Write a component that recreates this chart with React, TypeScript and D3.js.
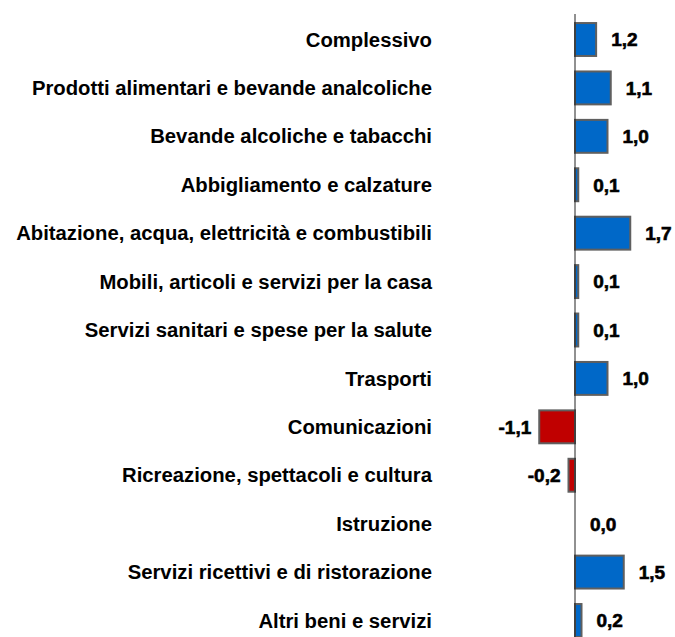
import { useEffect, useRef } from "react";
import * as d3 from "d3";

const categories = [
  "Complessivo",
  "Prodotti alimentari e bevande analcoliche",
  "Bevande alcoliche e tabacchi",
  "Abbigliamento e calzature",
  "Abitazione, acqua, elettricità e combustibili",
  "Mobili, articoli e servizi per la casa",
  "Servizi sanitari e spese per la salute",
  "Trasporti",
  "Comunicazioni",
  "Ricreazione, spettacoli e cultura",
  "Istruzione",
  "Servizi ricettivi e di ristorazione",
  "Altri beni e servizi",
];

// bar lengths as drawn in the picture
const barValues = [0.65, 1.1, 1.0, 0.1, 1.7, 0.1, 0.1, 1.0, -1.1, -0.2, 0.0, 1.5, 0.2];
// printed labels
const labelValues = [1.2, 1.1, 1.0, 0.1, 1.7, 0.1, 0.1, 1.0, -1.1, -0.2, 0.0, 1.5, 0.2];

const width = 675;
const height = 637;

export default function App() {
  const ref = useRef<HTMLDivElement | null>(null);

  useEffect(() => {
    if (!ref.current) return;
    d3.select(ref.current).selectAll("svg").remove();

    const svg = d3
      .select(ref.current)
      .append("svg")
      .attr("width", width)
      .attr("height", height)
      .style("display", "block");

    const x = d3.scaleLinear([-1.5, 2.0], [526.25, 640]);
    const y = d3
      .scaleBand(categories, [15.3, 644.7])
      .paddingInner(0.32)
      .paddingOuter(0.16);

    const rows = categories.map((c, i) => ({
      cat: c,
      v: barValues[i],
      label: labelValues[i],
    }));

    // bars
    svg
      .append("g")
      .selectAll("rect")
      .data(rows)
      .join("rect")
      .attr("x", (d) => x(Math.min(0, d.v)))
      .attr("y", (d) => y(d.cat) ?? 0)
      .attr("width", (d) => Math.abs(x(d.v) - x(0)))
      .attr("height", y.bandwidth())
      .attr("fill", (d) => (d.v < 0 ? "#C00000" : "#0068C8"))
      .attr("stroke", "#5f5f5f")
      .attr("stroke-width", 2)
      .style("display", (d) => (d.v === 0 ? "none" : null));

    // axis line
    svg
      .append("line")
      .attr("x1", x(0))
      .attr("x2", x(0))
      .attr("y1", 14)
      .attr("y2", height)
      .attr("stroke", "#222")
      .attr("stroke-width", 1);

    // category labels
    svg
      .append("g")
      .selectAll("text")
      .data(rows)
      .join("text")
      .attr("x", 432)
      .attr("y", (d) => (y(d.cat) ?? 0) + y.bandwidth() / 2)
      .attr("dy", "0.35em")
      .attr("text-anchor", "end")
      .attr("font-family", "'Liberation Sans', Arial, sans-serif")
      .attr("font-weight", "bold")
      .attr("font-size", 20.3)
      .attr("fill", "#000")
      .text((d) => d.cat);

    // value labels
    const fmt = (v: number) => v.toFixed(1).replace(".", ",");
    svg
      .append("g")
      .selectAll("text")
      .data(rows)
      .join("text")
      .attr("x", (d) => (d.v < 0 ? x(d.v) - 8 : x(Math.max(0, d.v)) + 15))
      .attr("y", (d) => (y(d.cat) ?? 0) + y.bandwidth() / 2)
      .attr("dy", "0.36em")
      .attr("text-anchor", (d) => (d.v < 0 ? "end" : "start"))
      .attr("font-family", "'Liberation Sans', Arial, sans-serif")
      .attr("font-weight", "bold")
      .attr("font-size", 19)
      .attr("stroke", "#000")
      .attr("stroke-width", 0.6)
      .attr("fill", "#000")
      .text((d) => fmt(d.label));
  }, []);

  return (
    <div
      ref={ref}
      style={{ position: "absolute", left: 0, top: 0, width, height }}
    />
  );
}
